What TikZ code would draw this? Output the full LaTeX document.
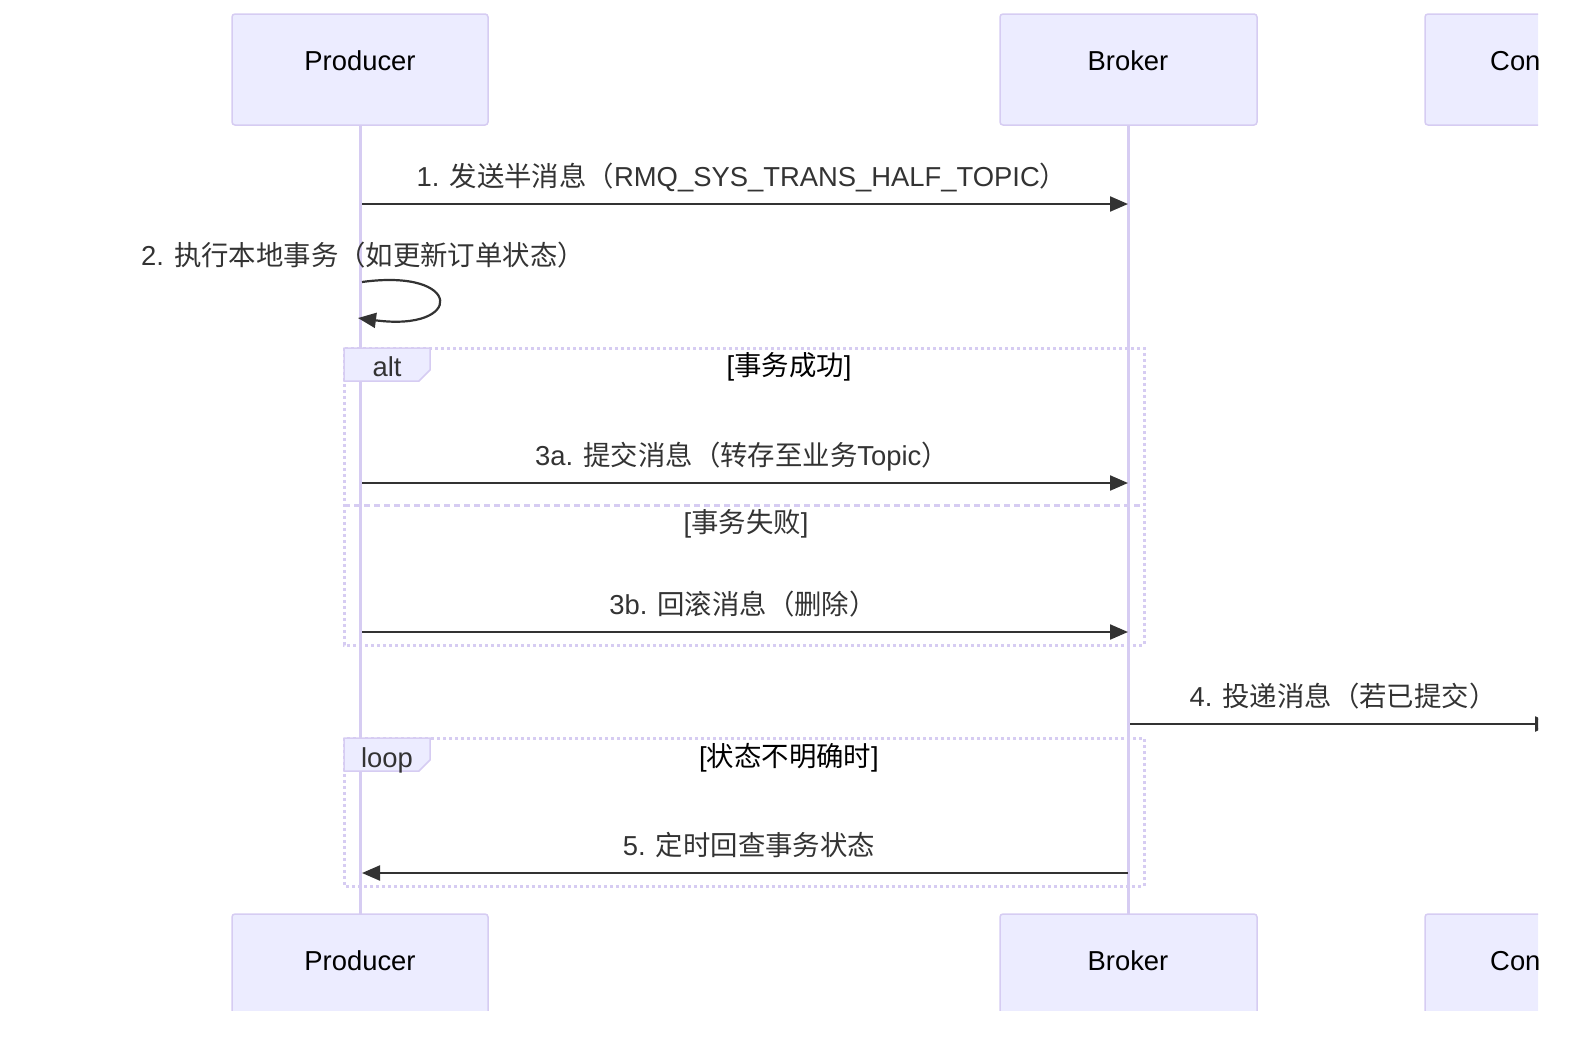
\documentclass[tikz,border=0pt]{standalone}
\usepackage{fontspec}
\setmainfont{Liberation Sans}
\newfontfamily\cjk{Noto Sans CJK SC}
\usetikzlibrary{arrows.meta}
\definecolor{lav}{HTML}{D6CCF2}
\definecolor{actfill}{HTML}{ECECFF}
\definecolor{msg}{HTML}{333333}
\tikzset{
  actor/.style={draw=lav, line width=1.5bp, fill=actfill, rounded corners=3bp},
  lifeline/.style={draw=lav, line width=3bp},
  msgline/.style={draw=msg, line width=2.2bp, -{Triangle[length=18bp,width=15bp]}},
  msgtxt/.style={text=msg, font=\fontsize{27.5}{32}\selectfont, inner sep=0pt, anchor=base},
  acttxt/.style={text=black, font=\fontsize{27.5}{32}\selectfont, inner sep=0pt},
  frame/.style={draw=lav, line width=3bp, dash pattern=on 3bp off 3bp},
  sep/.style={draw=lav, line width=3bp, dash pattern=on 6bp off 4bp},
  tab/.style={draw=lav, line width=1.5bp, fill=actfill},
  cond/.style={text=black, font=\fontsize{27.5}{32}\selectfont, inner sep=0pt, anchor=base},
}
\begin{document}
\begin{tikzpicture}[x=1bp,y=-1bp]
\useasboundingbox (0,0) rectangle (1576,1046);
\begin{scope}
\clip (0,0) rectangle (1538,1010);
% lifelines
\coordinate (pT) at (360,125); \coordinate (pB) at (360,914);
\coordinate (bT) at (1128,125); \coordinate (bB) at (1128,914);
\draw[lifeline] (pT) -- (pB);
\draw[lifeline] (bT) -- (bB);
% actors top
\draw[actor] (232,14) rectangle (488,125);
\draw[actor] (1000,14) rectangle (1257,125);
\draw[actor] (1425,14) rectangle (1600,125);
\node[acttxt] (prodT) at (360,61) {Producer};
\node[acttxt] (brokT) at (1128,61) {Broker};
\node[acttxt, anchor=west] (consT) at (1490,61) {Consumer};
% actors bottom
\draw[actor] (232,914) rectangle (488,1040);
\draw[actor] (1000,914) rectangle (1257,1040);
\draw[actor] (1425,914) rectangle (1600,1040);
\node[acttxt] (prodB) at (360,961) {Producer};
\node[acttxt] (brokB) at (1128,961) {Broker};
\node[acttxt, anchor=west] (consB) at (1490,961) {Consumer};

% message 1
\coordinate (m1a) at (362,204); \coordinate (m1b) at (1128,204);
\draw[msgline] (m1a) -- (m1b);
\node[msgtxt] (t1) at (742,186) {1. {\cjk 发送半消息（}RMQ\_SYS\_TRANS\_HALF\_TOPIC{\cjk ）}};
% message 2 self
\node[msgtxt] (t2) at (363,265) {2. {\cjk 执行本地事务（如更新订单状态）}};
\coordinate (m2a) at (362,282); \coordinate (m2b) at (358,318);
\draw[msgline] (m2a) .. controls (464,268) and (464,332) .. (m2b);

% alt frame
\draw[frame] (344,348) rectangle (1144,645);
\draw[tab] (344,348) -- (430,348) -- (430,370) -- (419,381) -- (344,381) -- cycle;
\node[msgtxt] (altl) at (387,376) {alt};
\node[cond] (c1) at (789,375) {[{\cjk 事务成功}]};
\coordinate (s1) at (344,505); \coordinate (s2) at (1144,505);
\draw[sep] (s1) -- (s2);
\node[msgtxt] (c2) at (746,532) {[{\cjk 事务失败}]};

% 3a
\coordinate (m3a) at (362,483); \coordinate (m3b) at (1128,483);
\draw[msgline] (m3a) -- (m3b);
\node[msgtxt] (t3a) at (742,465) {3a. {\cjk 提交消息（转存至业务}Topic{\cjk ）}};
% 3b
\coordinate (m3c) at (362,632); \coordinate (m3d) at (1128,632);
\draw[msgline] (m3c) -- (m3d);
\node[msgtxt] (t3b) at (743,614) {3b. {\cjk 回滚消息（删除）}};

% 4
\coordinate (m4a) at (1130,724); \coordinate (m4b) at (1553,724);
\draw[msgline] (m4a) -- (m4b);
\node[msgtxt] (t4) at (1343,706) {4. {\cjk 投递消息（若已提交）}};

% loop frame
\draw[frame] (344,738) rectangle (1144,886);
\draw[tab] (344,738) -- (430,738) -- (430,760) -- (419,771) -- (344,771) -- cycle;
\node[msgtxt] (loopl) at (387,767) {loop};
\node[cond] (c3) at (789,766) {[{\cjk 状态不明确时}]};

% 5
\coordinate (m5a) at (1128,873); \coordinate (m5b) at (362,873);
\draw[msgline] (m5a) -- (m5b);
\node[msgtxt] (t5) at (749,855) {5. {\cjk 定时回查事务状态}};
\end{scope}
\end{tikzpicture}
\end{document}
